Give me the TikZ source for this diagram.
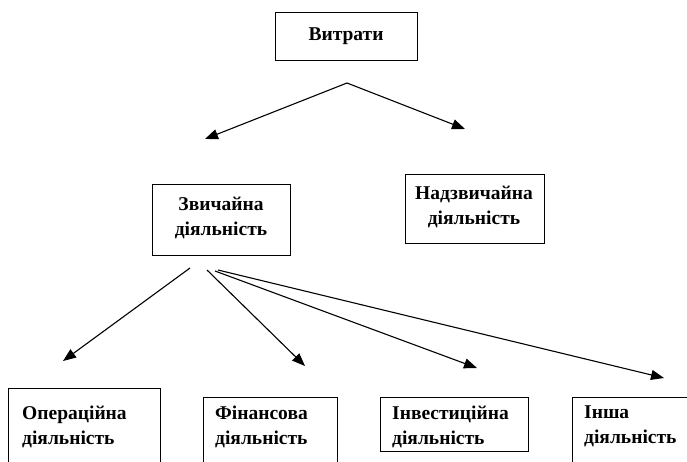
\documentclass[tikz,border=0pt]{standalone}
\usepackage{fontspec}
\setmainfont{Liberation Serif}[BoldFont={Liberation Serif Bold}]
\newfontfamily\lbfont{Liberation Serif Bold}
\usetikzlibrary{arrows.meta}
\begin{document}
\begin{tikzpicture}[x=1pt,y=-1pt,
  box/.style={draw,line width=0.9pt},
  lbl/.style={font=\lbfont\fontsize{19.5}{25}\selectfont,align=center,inner sep=0pt},
  lbll/.style={font=\lbfont\fontsize{19.5}{25}\selectfont,align=left,inner sep=0pt,anchor=north west},
  arr/.style={line width=1.1pt,-{Triangle[length=13pt,width=10pt]}}]
\useasboundingbox (0,0) rectangle (687,461);
\clip (0,0) rectangle (687,461);
% boxes
\draw[box] (275,12) rectangle (417,60);
\node[lbl] (vytraty) at (346,36) {Витрати};
\draw[box] (152,184) rectangle (290,255);
\node[lbl] (zvych) at (221,218) {Звичайна\\діяльність};
\draw[box] (405,174) rectangle (544,243);
\node[lbl] (nadz) at (474,207) {Надзвичайна\\діяльність};
\draw[box] (8,388) rectangle (160,470);
\node[lbll] (oper) at (22,406) {Операційна\\діяльність};
\draw[box] (203,397) rectangle (337,470);
\node[lbll] (fin) at (215,406) {Фінансова\\діяльність};
\draw[box] (380,397) rectangle (528,451);
\node[lbll] (inv) at (392,406) {Інвестиційна\\діяльність};
\draw[box] (572,397) rectangle (700,470);
\node[lbll] (insha) at (584,406) {Інша\\діяльність};
% arrow coordinates
\coordinate (a0) at (347,83);
\coordinate (a1) at (205,139);
\coordinate (a2) at (465,129);
\coordinate (b0) at (190,268);
\coordinate (b1) at (207,270);
\coordinate (b2) at (215,271);
\coordinate (b3) at (218,270);
\coordinate (c1) at (63,361);
\coordinate (c2) at (305,366);
\coordinate (c3) at (477,368);
\coordinate (c4) at (664,378);
\draw[arr] (a0) -- (a1);
\draw[arr] (a0) -- (a2);
\draw[arr] (b0) -- (c1);
\draw[arr] (b1) -- (c2);
\draw[arr] (b2) -- (c3);
\draw[arr] (b3) -- (c4);
\end{tikzpicture}
\end{document}
